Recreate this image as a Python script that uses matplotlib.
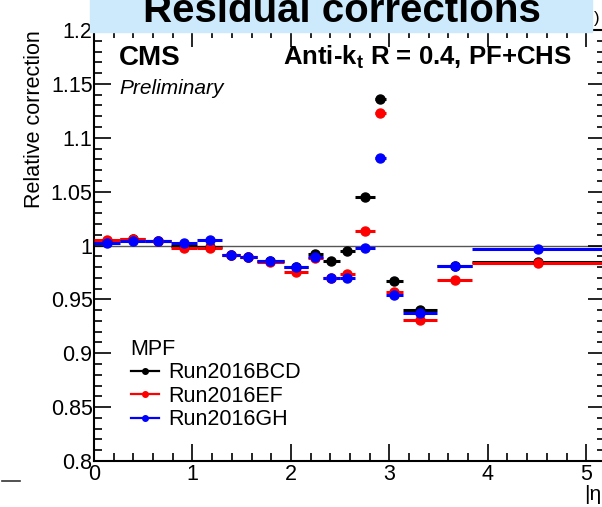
#L2 residual corrections vs |eta| for the three 2016 run periods
import numpy as np
import matplotlib.pyplot as plt
from matplotlib.lines import Line2D
from matplotlib.patches import Rectangle
from matplotlib.ticker import MultipleLocator

plt.rcParams['font.family'] = ['Liberation Sans', 'DejaVu Sans']

# eta bin edges
eta_edges = [0, 0.261, 0.522, 0.783, 1.044, 1.305, 1.479, 1.653, 1.930, 2.172,
             2.322, 2.500, 2.650, 2.853, 2.964, 3.139, 3.489, 3.839, 5.191]

# relative correction per bin
bcd = [1.004, 1.006, 1.004, 1.000, 0.999, 0.991, 0.989, 0.986, 0.980, 0.992,
       0.986, 0.995, 1.045, 1.136, 0.967, 0.940, 0.981, 0.985]
ef = [1.005, 1.006, 1.004, 0.998, 0.998, 0.991, 0.989, 0.985, 0.975, 0.988,
      0.970, 0.974, 1.013, 1.123, 0.957, 0.931, 0.968, 0.984]
gh = [1.002, 1.004, 1.004, 1.002, 1.005, 0.991, 0.989, 0.986, 0.980, 0.989,
      0.970, 0.970, 0.998, 1.081, 0.954, 0.937, 0.981, 0.997]

series = [("Run2016BCD", bcd, "black"),
          ("Run2016EF", ef, "#ff0000"),
          ("Run2016GH", gh, "#0000ff")]

edges = np.array(eta_edges)
centers = 0.5 * (edges[1:] + edges[:-1])
halfw = 0.5 * (edges[1:] - edges[:-1])

fig = plt.figure(figsize=(6.02, 5.07), dpi=100)
ax = fig.add_axes([94/602, 46/507, 511/602, 431/507])

ax.axhline(1.0, color="#555555", lw=1.0, zorder=1)

for name, vals, col in series:
    ax.errorbar(centers, vals, xerr=halfw, fmt="o", color=col, ms=6.5,
                elinewidth=2.2, capsize=0, zorder=3)

ax.set_xlim(0, 5.191)
ax.set_ylim(0.8, 1.2)
ax.xaxis.set_major_locator(MultipleLocator(1))
ax.xaxis.set_minor_locator(MultipleLocator(0.2))
ax.yaxis.set_minor_locator(MultipleLocator(0.01))
ax.set_yticks([0.8, 0.85, 0.9, 0.95, 1.0, 1.05, 1.1, 1.15, 1.2])
ax.set_yticklabels(["0.8", "0.85", "0.9", "0.95", "1", "1.05", "1.1", "1.15", "1.2"])
ax.tick_params(which="both", direction="in", top=True, right=True, labelsize=15.5, width=1.2)
ax.tick_params(which="major", length=12)
ax.tick_params(which="minor", length=6)
ax.tick_params(axis="x", pad=2)
ax.tick_params(axis="y", pad=1)
for s in ax.spines.values():
    s.set_linewidth(1.5)

ax.set_ylabel("Relative correction", fontsize=15.5, loc="top", labelpad=4)
fig.text(584/602, 1 - 495/507, "|η|", fontsize=15, ha="left", va="center")

# labels inside the frame
fig.text(119/602, 1 - 58/507, "CMS", fontsize=20, fontweight="bold", va="center")
fig.text(119/602, 1 - 88/507, "Preliminary", fontsize=15, style="italic", va="center")
fig.text(572/602, 1 - 57/507, r"Anti-k$_\mathregular{t}$ R = 0.4, PF+CHS", fontsize=18.5,
         fontweight="bold", ha="right", va="center")

# legend
handles = [Line2D([], [], color=c, marker="o", ms=4, lw=1.6) for _, _, c in series]
leg = ax.legend(handles, [n for n, _, _ in series], title="MPF", loc="upper left",
                bbox_to_anchor=(28/511, 1 - 300/431), frameon=False, fontsize=15.5,
                title_fontsize=15.5, handlelength=1.3, handletextpad=0.45,
                labelspacing=0.12, alignment="left", borderaxespad=0)

# slide title banner
fig.patches.append(Rectangle((90/602, 1 - 32/507), 502/602, 32/507,
                             transform=fig.transFigure, color="#cceafb", zorder=5))
fig.text(342/602, 1 - 22/507, "Residual corrections", fontsize=29, fontweight="bold",
         ha="center", va="baseline", zorder=6)
fig.text(597/602, 1 - 18/507, ")", fontsize=12, ha="center", va="center")
fig.lines.append(Line2D([2/602, 20/602], [1 - 481/507] * 2, transform=fig.transFigure,
                        color="#333333", lw=1.2))

fig.savefig("out.png", dpi=100)
